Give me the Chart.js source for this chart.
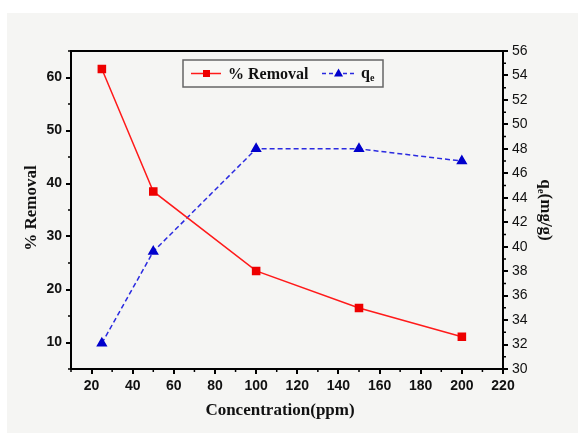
<!DOCTYPE html>
<html>
<head>
<meta charset="utf-8">
<script src="https://cdn.jsdelivr.net/npm/chart.js@4/dist/chart.umd.min.js"></script>
<style>
  html, body { margin: 0; padding: 0; background: #fff; }
  #wrap { width: 578px; height: 433px; }
</style>
</head>
<body>
<div id="wrap"><canvas id="chart" width="578" height="433"></canvas></div>
<script>
const concentration = [25, 50, 100, 150, 200];
const removal = [61.6, 38.5, 23.5, 16.5, 11.1];
const qe = [32.1, 39.6, 48.0, 48.0, 47.0];

const xTicks = [20, 40, 60, 80, 100, 120, 140, 160, 180, 200, 220];
const xMinor = [10, 30, 50, 70, 90, 110, 130, 150, 170, 190, 210];
const leftTicks = [10, 20, 30, 40, 50, 60];
const leftMinor = [5, 15, 25, 35, 45, 55, 65];
const rightTicks = [30, 32, 34, 36, 38, 40, 42, 44, 46, 48, 50, 52, 54, 56];
const rightMinor = [31, 33, 35, 37, 39, 41, 43, 45, 47, 49, 51, 53, 55];

const tickFont = { family: "'Liberation Sans', Arial, sans-serif", size: 14, weight: 'bold' };
const titleFont = "bold 17px 'Liberation Serif', 'Times New Roman', serif";
const legendFont = "bold 16px 'Liberation Serif', 'Times New Roman', serif";

// background, frame, minor ticks, titles, legend
const decor = {
  id: 'decor',
  beforeDraw(chart) {
    const ctx = chart.ctx;
    ctx.save();
    ctx.fillStyle = '#fff';
    ctx.fillRect(0, 0, chart.width, chart.height);
    ctx.fillStyle = '#f5f5f3';
    ctx.fillRect(7, 13, chart.width - 7, chart.height - 13);
    ctx.restore();
  },
  afterDraw(chart) {
    const ctx = chart.ctx;
    const a = chart.chartArea;
    const sx = chart.scales.x, sy = chart.scales.y, sy2 = chart.scales.y2;
    ctx.save();
    ctx.strokeStyle = '#000';
    ctx.lineWidth = 2;
    ctx.strokeRect(a.left, a.top, a.right - a.left, a.bottom - a.top);

    // minor ticks
    ctx.lineWidth = 1.5;
    ctx.beginPath();
    xMinor.forEach(v => { const p = sx.getPixelForValue(v); ctx.moveTo(p, a.bottom); ctx.lineTo(p, a.bottom + 3); });
    leftMinor.forEach(v => { const p = sy.getPixelForValue(v); ctx.moveTo(a.left, p); ctx.lineTo(a.left - 3, p); });
    rightMinor.forEach(v => { const p = sy2.getPixelForValue(v); ctx.moveTo(a.right, p); ctx.lineTo(a.right + 3, p); });
    ctx.stroke();

    // axis titles
    ctx.fillStyle = '#111';
    ctx.font = titleFont;
    ctx.textAlign = 'center';
    ctx.textBaseline = 'middle';
    ctx.fillText('Concentration(ppm)', 280, 411);

    ctx.save();
    ctx.translate(32, 208);
    ctx.rotate(-Math.PI / 2);
    ctx.fillText('% Removal', 0, 0);
    ctx.restore();

    ctx.save();
    ctx.translate(545, 210);
    ctx.rotate(Math.PI / 2);
    ctx.textAlign = 'left';
    const q = 'q', e = 'e', rest = '(mg/g)';
    ctx.font = titleFont;
    const wq = ctx.measureText(q).width;
    const wr = ctx.measureText(rest).width;
    ctx.font = "bold 11px 'Liberation Serif', serif";
    const we = ctx.measureText(e).width;
    let x0 = -(wq + we + wr) / 2;
    ctx.font = titleFont;
    ctx.fillText(q, x0, 0);
    ctx.font = "bold 11px 'Liberation Serif', serif";
    ctx.fillText(e, x0 + wq, 4);
    ctx.font = titleFont;
    ctx.fillText(rest, x0 + wq + we, 0);
    ctx.restore();

    // legend
    const lx = 183, ly = 60, lw = 200, lh = 27;
    ctx.fillStyle = '#f7f7f5';
    ctx.fillRect(lx, ly, lw, lh);
    ctx.strokeStyle = '#666';
    ctx.lineWidth = 1.5;
    ctx.strokeRect(lx, ly, lw, lh);
    const cy = ly + lh / 2;
    const ds = chart.data.datasets;
    // removal item
    ctx.strokeStyle = ds[0].borderColor;
    ctx.lineWidth = 1.5;
    ctx.beginPath(); ctx.moveTo(191, cy); ctx.lineTo(221, cy); ctx.stroke();
    ctx.fillStyle = ds[0].pointBackgroundColor;
    ctx.fillRect(203, cy - 3.5, 7, 7);
    ctx.fillStyle = '#111';
    ctx.font = legendFont;
    ctx.textAlign = 'left';
    ctx.fillText('% Removal', 228, cy + 1);
    // qe item
    ctx.strokeStyle = ds[1].borderColor;
    ctx.setLineDash([4, 3]);
    ctx.beginPath(); ctx.moveTo(322, cy); ctx.lineTo(355, cy); ctx.stroke();
    ctx.setLineDash([]);
    ctx.fillStyle = ds[1].pointBackgroundColor;
    ctx.beginPath(); ctx.moveTo(338.5, cy - 5); ctx.lineTo(343, cy + 3); ctx.lineTo(334, cy + 3); ctx.closePath(); ctx.fill();
    ctx.fillStyle = '#111';
    ctx.font = legendFont;
    ctx.fillText('q', 361, cy);
    ctx.font = "bold 10px 'Liberation Serif', serif";
    ctx.fillText('e', 370, cy + 5);
    ctx.restore();
  }
};

new Chart(document.getElementById('chart'), {
  type: 'line',
  data: {
    datasets: [
      {
        label: '% Removal',
        data: concentration.map((c, i) => ({ x: c, y: removal[i] })),
        yAxisID: 'y',
        borderColor: '#ff1a1a',
        backgroundColor: '#ff1a1a',
        pointBackgroundColor: '#ee0000',
        pointBorderColor: '#ee0000',
        pointStyle: 'rect',
        pointRadius: 5,
        borderWidth: 1.5,
        tension: 0
      },
      {
        label: 'qe',
        data: concentration.map((c, i) => ({ x: c, y: qe[i] })),
        yAxisID: 'y2',
        borderColor: '#2a2ae0',
        backgroundColor: '#0000cc',
        pointBackgroundColor: '#0000cc',
        pointBorderColor: '#0000cc',
        pointStyle: 'triangle',
        pointRadius: 5,
        borderWidth: 1.5,
        borderDash: [5, 3],
        tension: 0
      }
    ]
  },
  options: {
    responsive: false,
    animation: false,
    layout: { padding: { top: 51, left: 0, right: 0, bottom: 0 } },
    plugins: { legend: { display: false }, tooltip: { enabled: false } },
    scales: {
      x: {
        type: 'linear',
        min: 10, max: 220,
        afterBuildTicks: s => { s.ticks = xTicks.map(v => ({ value: v })); },
        afterFit: s => { s.height = 64; },
        ticks: { font: tickFont, color: '#111', padding: 4, maxRotation: 0 },
        grid: { drawOnChartArea: false, drawTicks: true, tickLength: 5, color: '#000', lineWidth: 2 },
        border: { display: true, color: '#000', width: 2 }
      },
      y: {
        position: 'left',
        min: 5, max: 65,
        afterBuildTicks: s => { s.ticks = leftTicks.map(v => ({ value: v })); },
        afterFit: s => { s.width = 71; },
        ticks: { font: tickFont, color: '#111', padding: 4 },
        grid: { drawOnChartArea: false, drawTicks: true, tickLength: 5, color: '#000', lineWidth: 2 },
        border: { display: true, color: '#000', width: 2 }
      },
      y2: {
        position: 'right',
        min: 30, max: 56,
        afterBuildTicks: s => { s.ticks = rightTicks.map(v => ({ value: v })); },
        afterFit: s => { s.width = 75; },
        ticks: { font: { family: "'Liberation Sans', Arial, sans-serif", size: 14 }, color: '#111', padding: 4 },
        grid: { drawOnChartArea: false, drawTicks: true, tickLength: 5, color: '#000', lineWidth: 2 },
        border: { display: true, color: '#000', width: 2 }
      }
    }
  },
  plugins: [decor]
});
</script>
</body>
</html>
